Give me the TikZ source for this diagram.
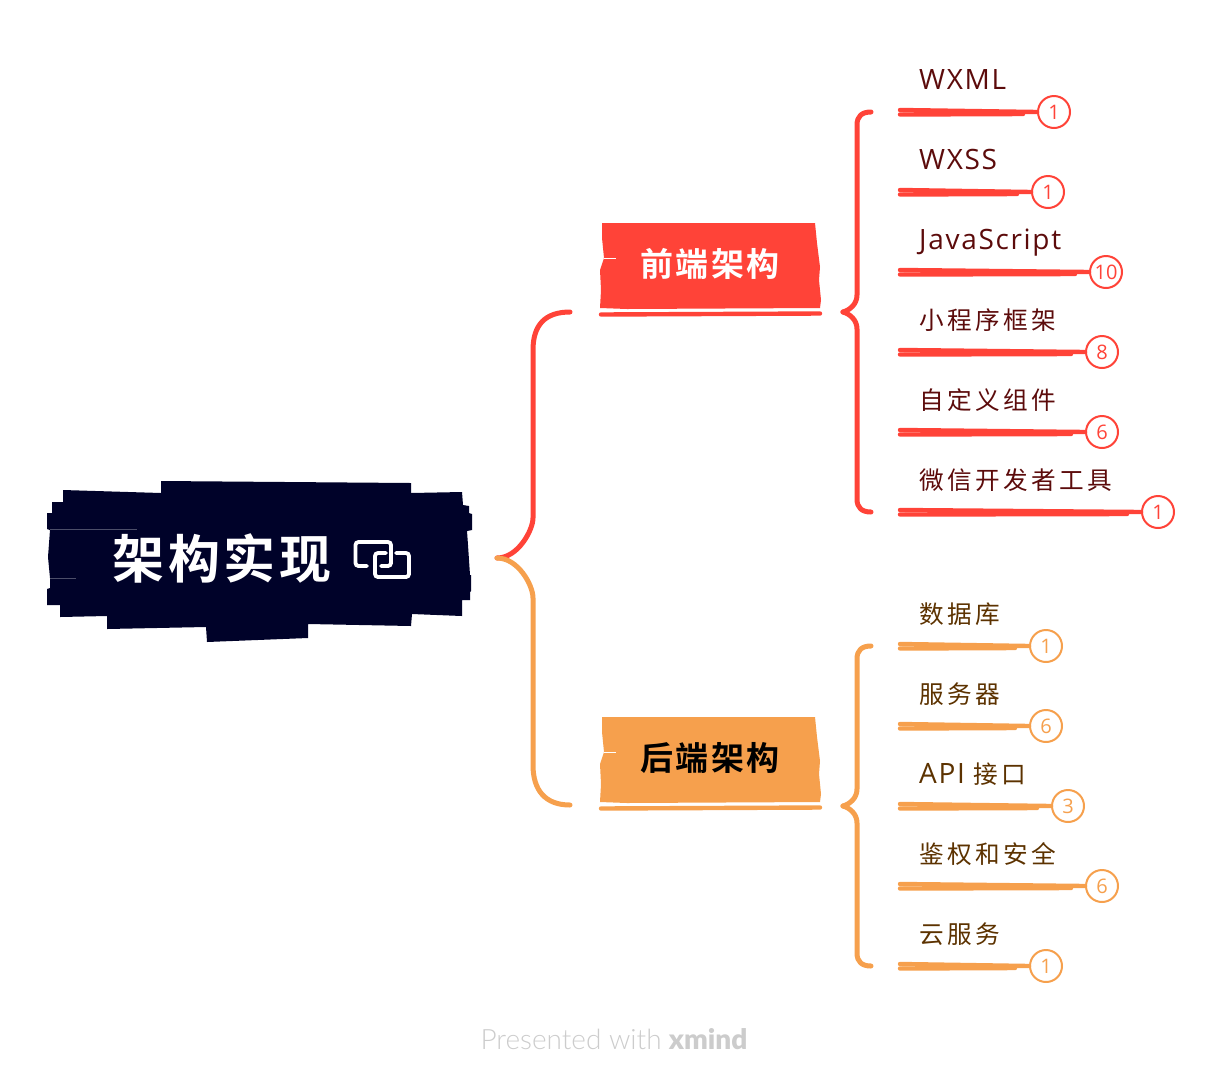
\documentclass[tikz,border=0pt]{standalone}
\usepackage{fontspec}
\setmainfont{Open Sans}
\newfontfamily\latin[LetterSpace=6]{Open Sans}
\newfontfamily\cjk[LetterSpace=14,Scale=0.88]{Noto Sans CJK SC}
\newfontfamily\cjkhead[LetterSpace=7]{Noto Sans CJK SC Bold}
\newfontfamily\footfont{Lato Light}
\newfontfamily\footbold{Lato Black}
\usepackage{xcolor}
\usepackage{tikz}
\usetikzlibrary{positioning}
\definecolor{rootblue}{HTML}{000229}
\definecolor{frontred}{HTML}{FF4338}
\definecolor{backorange}{HTML}{F6A04D}
\definecolor{frontink}{HTML}{5C0B0B}
\definecolor{backink}{HTML}{5C3200}
\tikzset{
  leaftext/.style={anchor=base west, inner sep=0, font=\fontsize{28}{30}\selectfont\latin},
  badge/.style={circle, draw, fill=white, line width=2, minimum size=32, inner sep=0, font=\fontsize{20}{22}\selectfont},
  roughline/.style={line width=4.4, line cap=round},
  branchline/.style={line width=5, line cap=round, line join=round},
  headtext/.style={inner sep=0, font=\fontsize{33}{36}\selectfont\cjkhead},
}
\begin{document}
\begin{tikzpicture}[x=1pt,y=-1pt]
\useasboundingbox (0,0) rectangle (1224,1088);
% root
\fill[rootblue] (63,490) -- (161,493) -- (161,481) -- (411,483) -- (411,493) -- (462,492) -- (463,505) -- (469,506) -- (469,513) -- (472,514) -- (472,530) -- (467,531) -- (468,545) -- (470,575) -- (471,575) -- (471,591) -- (470,592) -- (470,600) -- (462,600) -- (462,616) -- (412,614) -- (411,626) -- (308,624) -- (308,638) -- (207,642) -- (206,627) -- (107,629) -- (107,616) -- (60,617) -- (60,605) -- (47,605) -- (47,589) -- (50,588) -- (50,578) -- (48,557) -- (50,530) -- (47,529) -- (47,513) -- (52,513) -- (52,502) -- (63,502) -- cycle;
\draw[white!30!rootblue, very thin] (50,529) -- (137,529);
\draw[white!30!rootblue, very thin] (50,578) -- (76,578);
\node[inner sep=0, text=white, font=\fontsize{52}{56}\selectfont\cjkhead] (root) at (222,558) {架构实现};
\draw[white, line width=3.8, rounded corners=3, line cap=round] (367,566) -- (355.5,566) -- (355.5,542) -- (391,542) -- (391,566) -- (381,566);
\draw[white, line width=3.8, rounded corners=3, line cap=round] (396,553) -- (409,553) -- (409,577) -- (375,577) -- (375,553) -- (386,553);
\coordinate (rootout) at (497,558);
% front
\begin{scope}
\fill[frontred] (602,223) -- (815,223) -- (817,243) -- (820,267) -- (819,280) -- (821,300) -- (820,308) -- (627,309) -- (600,308) -- (601,290) -- (600,270) -- (604,258) -- (602,238) -- cycle;
\draw[white, thin] (604,258) -- (616,258);
\draw[roughline, frontred] (601,314.5) -- (820,313.5);
\node[headtext, text=white] (front) at (710,264) {前端架构};
\coordinate (frontin) at (570,312);
\coordinate (frontout) at (843,312);
\draw[branchline, frontred] (rootout) .. controls (518,558) and (533,530) .. (533,518) -- (533,350) .. controls (533,325) and (545,312) .. (frontin);
\draw[branchline, frontred] (frontout) .. controls (850,310) and (857,304) .. (857,295) -- (857,125) .. controls (857,116) and (862,112) .. (871,112);
\draw[branchline, frontred] (frontout) .. controls (850,314) and (857,320) .. (857,329) -- (857,499) .. controls (857,508) and (862,512) .. (871,512);
\foreach \i/\ypos/\xpos/\txt/\num in {1/112/1054/WXML/1, 2/192/1048/WXSS/1, 3/272/1106/JavaScript/10, 4/352/1102/{\cjk 小程序框架}/8, 5/432/1102/{\cjk 自定义组件}/6, 6/512/1158/{\cjk 微信开发者工具}/1} {
  \node[leaftext, text=frontink] (fl\i) at (919,\ypos-23) {\txt};
  \node[badge, draw=frontred, text=frontred] (fb\i) at (\xpos,\ypos) {\num};
  \coordinate (fa\i) at (900,\ypos);
  \draw[roughline, frontred] ([yshift=2]fa\i) -- (fb\i.west);
  \draw[roughline, frontred] ([yshift=-2.5]fa\i) -- ([xshift=-14,yshift=-2]fb\i.west);
}
\end{scope}
% back
\begin{scope}
\fill[backorange] (602,717) -- (815,717) -- (817,737) -- (820,761) -- (819,774) -- (821,794) -- (820,802) -- (627,803) -- (600,802) -- (601,784) -- (600,764) -- (604,752) -- (602,732) -- cycle;
\draw[white, thin] (604,752) -- (616,752);
\draw[roughline, backorange] (601,808.5) -- (820,807.5);
\node[headtext, text=black] (back) at (710,758) {后端架构};
\coordinate (backin) at (570,805);
\coordinate (backout) at (843,806);
\draw[branchline, backorange] (rootout) .. controls (518,558) and (533,585) .. (533,598) -- (533,765) .. controls (533,790) and (545,805) .. (backin);
\draw[branchline, backorange] (backout) .. controls (850,804) and (857,798) .. (857,789) -- (857,659) .. controls (857,650) and (862,646) .. (871,646);
\draw[branchline, backorange] (backout) .. controls (850,808) and (857,814) .. (857,823) -- (857,953) .. controls (857,962) and (862,966) .. (871,966);
\foreach \i/\ypos/\xpos/\txt/\num in {1/646/1046/{\cjk 数据库}/1, 2/726/1046/{\cjk 服务器}/6, 3/806/1068/{API {\cjk 接口}}/3, 4/886/1102/{\cjk 鉴权和安全}/6, 5/966/1046/{\cjk 云服务}/1} {
  \node[leaftext, text=backink] (bl\i) at (919,\ypos-23) {\txt};
  \node[badge, draw=backorange, text=backorange] (bb\i) at (\xpos,\ypos) {\num};
  \coordinate (ba\i) at (900,\ypos);
  \draw[roughline, backorange] ([yshift=2]ba\i) -- (bb\i.west);
  \draw[roughline, backorange] ([yshift=-2.5]ba\i) -- ([xshift=-14,yshift=-2]bb\i.west);
}
\end{scope}
\node[inner sep=0, text=black!20, font=\fontsize{28}{30}\selectfont] (credit) at (614,1039) {{\footfont Presented with} {\footbold xmind}};
\end{tikzpicture}
\end{document}
